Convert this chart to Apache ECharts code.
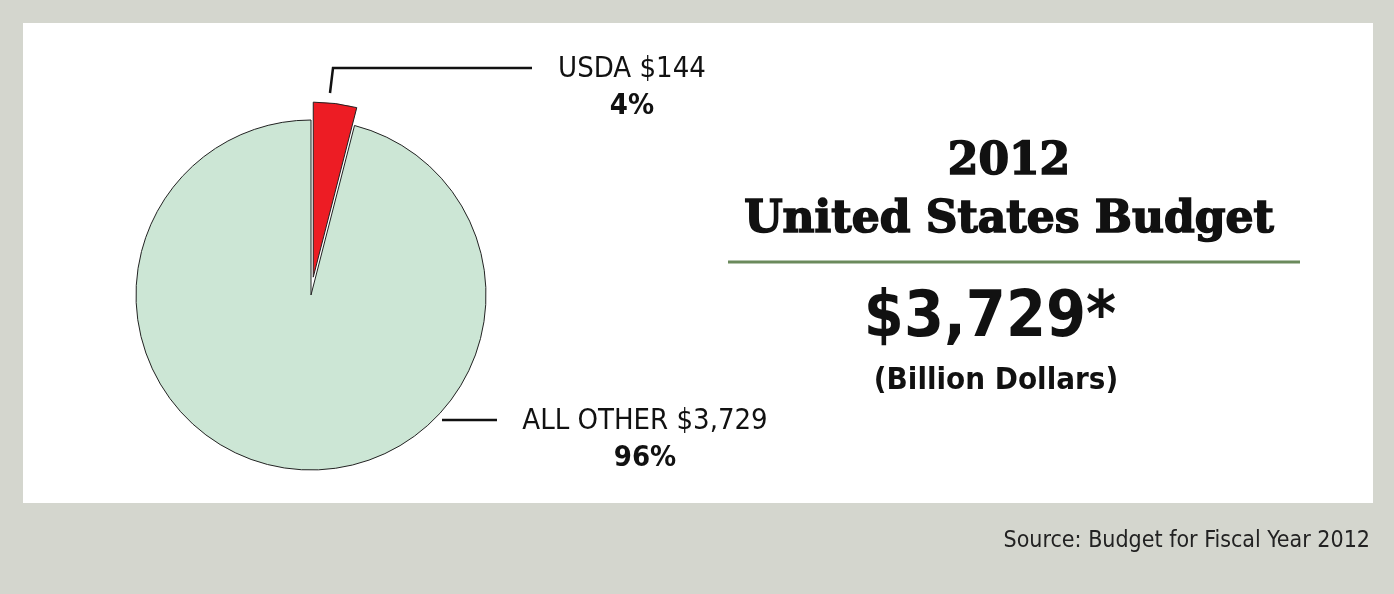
<!DOCTYPE html>
<html>
<head>
<meta charset="utf-8">
<script src="https://cdn.jsdelivr.net/npm/echarts@6/dist/echarts.min.js"></script>
<style>
  html, body { margin: 0; padding: 0; background: #d4d6ce; }
  #main { width: 1394px; height: 594px; }
</style>
</head>
<body>
<div id="main"></div>
<script>
// data
var categories = ['USDA', 'ALL OTHER'];
var amounts = [144, 3729];      // billion dollars, as labelled
var shares = [4, 96];           // percent of budget
var sliceColors = ['#ed1c24', '#cce6d5'];
var totalBudget = '$3,729*';

var narrow = "'Liberation Sans Narrow', 'DejaVu Sans Condensed', 'Arial Narrow', sans-serif";
var slab = "'DejaVu Serif', 'Liberation Serif', serif";

// where the two callouts sit
var labelSpots = [
  { x: 632, y: 88, line: [[330, 93], [333, 68], [532, 68]] },
  { x: 645, y: 440, line: [[442, 420], [497, 420]] }
];

var callouts = [];
categories.forEach(function (c, i) {
  var s = labelSpots[i];
  callouts.push({
    type: 'polyline', z: 5, silent: true,
    shape: { points: s.line },
    style: { stroke: '#111', lineWidth: 2.5, fill: null }
  });
  callouts.push({
    type: 'text', z: 5, silent: true,
    x: s.x, y: s.y,
    style: {
      text: '{a|' + c + ' $' + amounts[i].toLocaleString('en-US') + '}\n{b|' + shares[i] + '%}',
      align: 'center', verticalAlign: 'middle',
      rich: {
        a: { fontFamily: narrow, fontSize: 29, fill: '#111', lineHeight: 37, align: 'center' },
        b: { fontFamily: narrow, fontSize: 29, fontWeight: 'bold', fill: '#111', lineHeight: 37, align: 'center' }
      }
    }
  });
});

var myChart = echarts.init(document.getElementById('main'));
var option = {
  backgroundColor: '#d4d6ce',
  animation: false,
  graphic: [
    {
      type: 'rect', z: -10, silent: true,
      shape: { x: 23, y: 23, width: 1350, height: 480 },
      style: { fill: '#ffffff' }
    },
    {
      type: 'text', z: 5,
      x: 1009, y: 163,
      style: {
        text: '2012', fill: '#111', stroke: '#111', lineWidth: 1.6, font: '900 44px ' + slab,
        align: 'center', verticalAlign: 'middle'
      }
    },
    {
      type: 'text', z: 5,
      x: 1009, y: 221,
      style: {
        text: 'United States Budget', fill: '#111', stroke: '#111', lineWidth: 1.6, font: '900 44px ' + slab,
        align: 'center', verticalAlign: 'middle'
      }
    },
    {
      type: 'line', z: 5,
      shape: { x1: 728, y1: 262, x2: 1300, y2: 262 },
      style: { stroke: '#6b8a5c', lineWidth: 3 }
    },
    {
      type: 'text', z: 5,
      x: 990, y: 319,
      style: {
        text: totalBudget, fill: '#111', font: 'bold 64px ' + narrow,
        align: 'center', verticalAlign: 'middle'
      }
    },
    {
      type: 'text', z: 5,
      x: 996, y: 381,
      style: {
        text: '(Billion Dollars)', fill: '#111', font: 'bold 31px ' + narrow,
        align: 'center', verticalAlign: 'middle'
      }
    },
    {
      type: 'text', z: 5,
      x: 1370, y: 541,
      style: {
        text: 'Source: Budget for Fiscal Year 2012', fill: '#222', font: '23px ' + narrow,
        align: 'right', verticalAlign: 'middle'
      }
    }
  ].concat(callouts),
  series: [
    {
      name: '2012 Budget',
      type: 'pie',
      center: [311, 295],
      radius: 175,
      startAngle: 90,
      clockwise: true,
      selectedMode: 'single',
      selectedOffset: 18,
      emphasis: { disabled: true },
      itemStyle: { borderColor: '#222', borderWidth: 1 },
      label: { show: false },
      labelLine: { show: false },
      data: categories.map(function (c, i) {
        return { name: c, value: shares[i], selected: i === 0, itemStyle: { color: sliceColors[i] } };
      })
    }
  ]
};
myChart.setOption(option);
</script>
</body>
</html>
